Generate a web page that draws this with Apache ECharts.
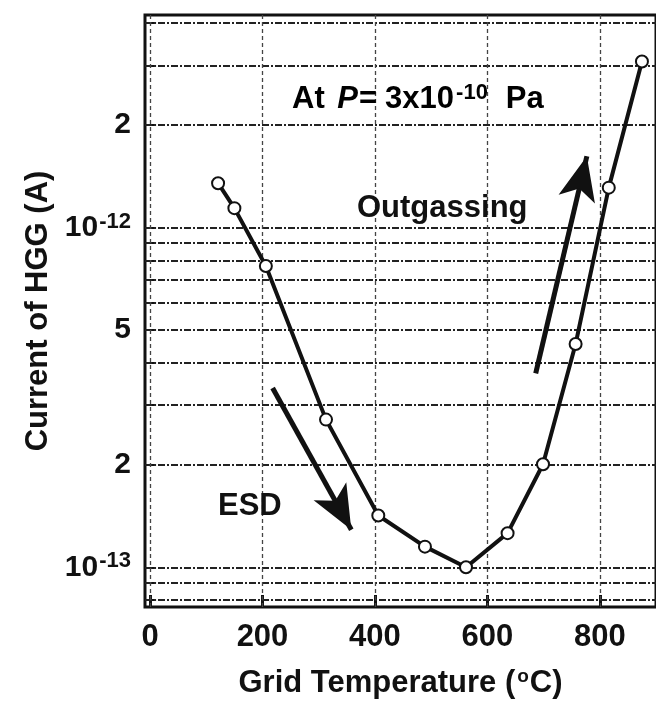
<!DOCTYPE html>
<html>
<head>
<meta charset="utf-8">
<script src="https://cdn.jsdelivr.net/npm/echarts@6/dist/echarts.min.js"></script>
<style>
  html, body { margin: 0; padding: 0; background: #fff; }
  #chart { width: 656px; height: 704px; }
</style>
</head>
<body>
<div id="chart"></div>
<script>
// Grid temperature (°C) and HGG current (A)
var temperature = [121, 150, 206, 313, 406, 489, 562, 636, 699, 757, 816, 875];
var current = [1.35e-12, 1.14e-12, 7.7e-13, 2.72e-13, 1.42e-13, 1.15e-13, 1.0e-13,
               1.26e-13, 2.01e-13, 4.54e-13, 1.31e-12, 3.08e-12];

// Axis ranges, ticks and gridlines
var xRange = [-9, 900];
var yRange = [7.64e-14, 4.22e-12];
var xTicks = [0, 200, 400, 600, 800];
var yLabelValues = [1e-13, 2e-13, 5e-13, 1e-12, 2e-12];
var yGridValues = [8e-14, 9e-14, 1e-13, 2e-13, 3e-13, 4e-13, 5e-13, 6e-13, 7e-13,
                   8e-13, 9e-13, 1e-12, 2e-12, 3e-12, 4e-12];

// Annotation arrows: [tail, tip] in data coordinates
var esdArrow = [[218, 3.37e-13], [358, 1.29e-13]];
var outgasArrow = [[686, 3.72e-13], [777, 1.62e-12]];

var FONT = '"Liberation Sans", Arial, Helvetica, sans-serif';
var INK = '#111';

function yLabel(v) {
  var e = Math.floor(Math.log10(v) + 1e-9);
  var m = Math.round(v / Math.pow(10, e));
  if (m === 1) return '{b|10}{s|' + e + '}';
  return '{b|' + m + '}';
}

var chart = echarts.init(document.getElementById('chart'), null, { renderer: 'canvas' });

var option = {
  backgroundColor: '#fff',
  animation: false,
  grid: {
    left: 145, top: 15, right: -3, bottom: 91,
    show: true, borderColor: INK, borderWidth: 3, backgroundColor: 'transparent'
  },
  xAxis: {
    type: 'value',
    min: xRange[0], max: xRange[1],
    name: 'Grid Temperature ({o|o}C)',
    nameLocation: 'middle',
    nameGap: 60,
    nameTextStyle: {
      fontFamily: FONT, fontSize: 31, fontWeight: 'bold', color: INK,
      rich: { o: { fontFamily: FONT, fontSize: 19, fontWeight: 'bold', color: INK, verticalAlign: 'top', padding: [0, 1, 14, 2] } }
    },
    axisLine: { show: false },
    axisTick: { show: true, inside: true, length: 12, customValues: xTicks, lineStyle: { color: INK, width: 3 } },
    axisLabel: {
      customValues: xTicks, margin: 15,
      fontFamily: FONT, fontSize: 31, fontWeight: 'bold', color: INK
    },
    splitLine: { show: false }
  },
  yAxis: {
    type: 'log',
    logBase: 10,
    min: yRange[0], max: yRange[1],
    name: 'Current of HGG (A)',
    nameLocation: 'middle',
    nameGap: 90,
    nameRotate: 90,
    nameTextStyle: { fontFamily: FONT, fontSize: 31, fontWeight: 'bold', color: INK },
    axisLine: { show: false },
    axisTick: { show: true, inside: true, length: 6, customValues: yGridValues, lineStyle: { color: INK, width: 2 } },
    axisLabel: {
      customValues: yLabelValues, margin: 14,
      formatter: yLabel,
      rich: {
        b: { fontFamily: FONT, fontSize: 30, fontWeight: 'bold', color: INK },
        s: { fontFamily: FONT, fontSize: 22, fontWeight: 'bold', color: INK, verticalAlign: 'top', padding: [0, 0, 12, 1] }
      }
    },
    splitLine: { show: false },
    minorSplitLine: { show: false }
  },
  series: [
    {
      // horizontal gridlines at 1..9 per decade
      type: 'line', data: [], silent: true,
      markLine: {
        silent: true, symbol: ['none', 'none'], label: { show: false },
        lineStyle: { color: '#222', width: 1.8, type: [7, 2, 2, 2] },
        data: yGridValues.map(function (v) {
          return [{ coord: [xRange[0], v] }, { coord: [xRange[1], v] }];
        })
      }
    },
    {
      // vertical gridlines at labelled temperatures
      type: 'line', data: [], silent: true,
      markLine: {
        silent: true, symbol: ['none', 'none'], label: { show: false },
        lineStyle: { color: '#444', width: 1.3, type: [4, 3] },
        data: xTicks.map(function (v) {
          return [{ coord: [v, yRange[0]] }, { coord: [v, yRange[1]] }];
        })
      }
    },
    {
      // ESD and outgassing arrows
      type: 'line', data: [], silent: true,
      markLine: {
        silent: true, symbol: ['none', 'arrow'], symbolSize: [28, 44],
        label: { show: false },
        lineStyle: { color: INK, width: 5, type: 'solid' },
        data: [
          [{ coord: esdArrow[0] }, { coord: esdArrow[1] }],
          [{ coord: outgasArrow[0] }, { coord: outgasArrow[1] }]
        ]
      }
    },
    {
      type: 'line',
      data: temperature.map(function (t, i) { return [t, current[i]]; }),
      lineStyle: { color: INK, width: 4 },
      symbol: 'circle', symbolSize: 12,
      itemStyle: { color: '#fff', borderColor: INK, borderWidth: 2 },
      z: 5
    }
  ],
  graphic: [
    {
      type: 'text', left: 292, top: 82, z: 10,
      style: {
        text: '{n|At }{i|P}{e|=}{n|3x10}{s|-10}{p|Pa}',
        rich: {
          n: { fontFamily: FONT, fontSize: 31, fontWeight: 'bold', color: INK },
          i: { fontFamily: FONT, fontSize: 31, fontWeight: 'bold', fontStyle: 'italic', color: INK, padding: [0, 0, 0, 4] },
          e: { fontFamily: FONT, fontSize: 31, fontWeight: 'bold', color: INK, padding: [0, 8, 0, 1] },
          s: { fontFamily: FONT, fontSize: 22, fontWeight: 'bold', color: INK, verticalAlign: 'top', padding: [0, 0, 12, 2] },
          p: { fontFamily: FONT, fontSize: 31, fontWeight: 'bold', color: INK, padding: [0, 0, 0, 18] }
        }
      }
    },
    {
      type: 'text', left: 357, top: 193, z: 10,
      style: { text: 'Outgassing', fontFamily: FONT, fontSize: 31, fontWeight: 'bold', fill: INK }
    },
    {
      type: 'text', left: 218, top: 491, z: 10,
      style: { text: 'ESD', fontFamily: FONT, fontSize: 31, fontWeight: 'bold', fill: INK }
    }
  ]
};

chart.setOption(option);
</script>
</body>
</html>
